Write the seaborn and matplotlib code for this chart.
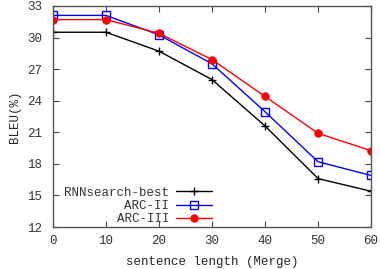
import matplotlib
matplotlib.use("Agg")
import matplotlib.pyplot as plt
import seaborn as sns
import pandas as pd

# values
lengths = [0, 10, 20, 30, 40, 50, 60]
rnnsearch_best = [30.5, 30.5, 28.7, 26.0, 21.6, 16.6, 15.4]
arc_ii = [32.1, 32.1, 30.25, 27.5, 22.95, 18.2, 16.9]
arc_iii = [31.7, 31.7, 30.4, 27.9, 24.4, 20.9, 19.25]

x_ticks = [0, 10, 20, 30, 40, 50, 60]
y_ticks = [12, 15, 18, 21, 24, 27, 30, 33]

sns.set_style("ticks")
plt.rcParams["font.family"] = ["Liberation Mono", "DejaVu Sans Mono"]
plt.rcParams["font.size"] = 9
plt.rcParams["text.color"] = "#333333"
plt.rcParams["xtick.labelcolor"] = "#333333"
plt.rcParams["ytick.labelcolor"] = "#333333"

fig = plt.figure(figsize=(3.8, 2.69), dpi=100)
ax = fig.add_axes([0.1395, 0.156, 0.837, 0.822])

series = [
    ("RNNsearch-best", rnnsearch_best, "black", "+", dict(markersize=6, markeredgewidth=1.0)),
    ("ARC-II", arc_ii, "blue", "s", dict(markersize=5.5, markerfacecolor="none", markeredgewidth=1.0)),
    ("ARC-III", arc_iii, "red", "o", dict(markersize=5.5, markeredgewidth=0.5)),
]

for name, vals, color, marker, kw in series:
    df = pd.DataFrame({"length": lengths, "bleu": vals})
    sns.lineplot(data=df, x="length", y="bleu", ax=ax, color=color, marker=marker,
                 markeredgecolor=color, linewidth=1.0, label=name, **kw)

ax.set_xlim(0, 60)
ax.set_ylim(12, 33)
ax.set_xticks(x_ticks)
ax.set_yticks(y_ticks)
ax.tick_params(direction="in", top=True, right=True, length=4, width=0.8, color="#444444",
               labelsize=9, pad=6)
ax.tick_params(axis="x", top=True, labeltop=False)
ax.tick_params(axis="y", right=True, labelright=False, pad=8)
for s in ax.spines.values():
    s.set_color("#555555")
    s.set_linewidth(1.0)

ax.set_xlabel("sentence length (Merge)", fontsize=9, labelpad=6)
ax.set_ylabel("BLEU(%)", fontsize=9, labelpad=4)

ax.legend(loc="lower left", bbox_to_anchor=(0.02, -0.014), markerfirst=False, frameon=False,
          fontsize=9, handlelength=2.9, handletextpad=0.5, labelspacing=0.1,
          borderaxespad=0.0)
leg = ax.get_legend()
leg._legend_box.align = "right"

fig.savefig("out.png", dpi=100)
